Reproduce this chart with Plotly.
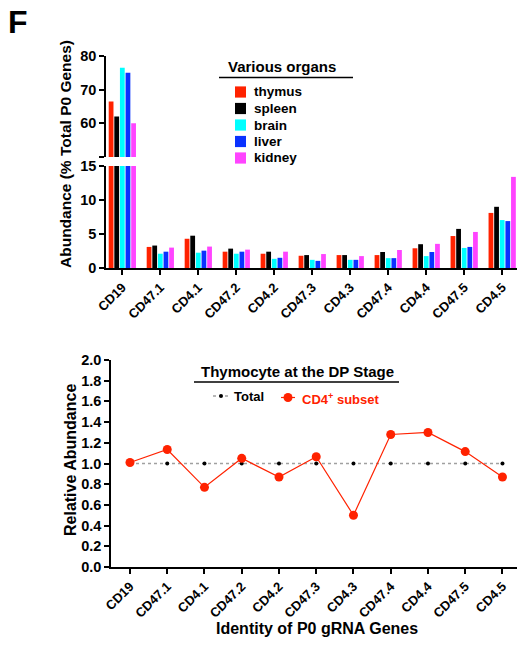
import plotly.graph_objects as go

W, H = 526, 645
def X(px): return px / W
def Y(py): return 1 - py / H

categories = ["CD19", "CD47.1", "CD4.1", "CD47.2", "CD4.2", "CD47.3", "CD4.3",
              "CD47.4", "CD4.4", "CD47.5", "CD4.5"]
organs = ["thymus", "spleen", "brain", "liver", "kidney"]
thymus = [66.5, 3.1, 4.3, 2.4, 2.1, 1.8, 1.9, 1.9, 2.9, 4.7, 8.1]
spleen = [62.0, 3.3, 4.75, 2.85, 2.4, 1.9, 1.9, 2.35, 3.5, 5.75, 9.0]
brain = [76.5, 2.1, 2.25, 2.1, 1.35, 1.2, 1.2, 1.45, 1.75, 2.95, 7.05]
liver = [75.0, 2.4, 2.55, 2.4, 1.5, 1.05, 1.2, 1.45, 2.35, 3.1, 6.9]
kidney = [60.0, 3.0, 3.15, 2.7, 2.4, 2.05, 1.75, 2.65, 3.55, 5.3, 13.4]
total = [1.0, 1.0, 1.0, 1.0, 1.0, 1.0, 1.0, 1.0, 1.0, 1.0, 1.0]
cd4_subset = [1.01, 1.135, 0.77, 1.05, 0.87, 1.065, 0.50, 1.28, 1.30, 1.115, 0.87]

colors = ["#FF2200", "#000000", "#00FFFF", "#0A32FF", "#FF44FF"]
series = [thymus, spleen, brain, liver, kidney]
RED = "#FF2200"
GRAY = "#A0A0A0"

FONT = "Liberation Sans, Arial, sans-serif"
fig = go.Figure()

for name, vals, col in zip(organs, series, colors):
    for yax in ("y", "y2"):
        fig.add_trace(go.Bar(x=categories, y=vals, name=name, marker_color=col,
                             marker_line_width=0, xaxis="x", yaxis=yax,
                             showlegend=False))

fig.add_trace(go.Scatter(x=categories, y=total, name="Total", mode="lines+markers",
                         line=dict(color=GRAY, width=1.5, dash="dot"),
                         marker=dict(color="black", size=4),
                         xaxis="x2", yaxis="y3", showlegend=False))
fig.add_trace(go.Scatter(x=categories, y=cd4_subset, name="CD4+ subset",
                         mode="lines+markers",
                         line=dict(color=RED, width=1.2),
                         marker=dict(color=RED, size=9),
                         xaxis="x2", yaxis="y3", showlegend=False))

def ax(size=14.5, **kw):
    d = dict(showline=True, linecolor="black", linewidth=1.5, ticks="outside",
             ticklen=5, tickwidth=1.5, tickcolor="black", showgrid=False,
             zeroline=False, automargin=False, tickfont=dict(size=size, color="black"))
    d.update(kw)
    return d

def ann(text, x, y, size, angle=0, color="black", **kw):
    d = dict(text=text, x=X(x), y=Y(y), xref="paper", yref="paper", showarrow=False,
             textangle=angle, xanchor="center", yanchor="middle",
             font=dict(size=size, color=color))
    d.update(kw)
    return d

annotations = [
    ann("F", 18, 22, 32),
    ann("Abundance (% Total P0 Genes)", 65, 154, 15.5, -90),
    ann("Various organs", 282, 66, 15),
    ann("Thymocyte at the DP Stage", 297, 371, 15),
    ann("Relative Abundance", 70, 460, 16, -90),
    ann("Identity of P0 gRNA Genes", 317, 628, 16),
]
shapes = [
    dict(type="line", xref="paper", yref="paper", x0=X(219), x1=X(353),
         y0=Y(77.5), y1=Y(77.5), line=dict(color="black", width=1.5)),
    dict(type="line", xref="paper", yref="paper", x0=X(194), x1=X(399),
         y0=Y(382), y1=Y(382), line=dict(color="black", width=1.5)),
]
# top legend (Various organs)
row0, row_step = 92, 16.5
for i, (name, col) in enumerate(zip(organs, colors)):
    cy = row0 + i * row_step
    shapes.append(dict(type="rect", xref="paper", yref="paper",
                       x0=X(235), x1=X(246), y0=Y(cy - 5.6), y1=Y(cy + 5.6),
                       fillcolor=col, line=dict(width=0)))
    annotations.append(ann(name, 251.5, cy, 13.5, xanchor="left"))

# bottom legend (Total / CD4+ subset)
ty = 396
shapes += [
    dict(type="line", xref="paper", yref="paper", x0=X(213), x1=X(229),
         y0=Y(ty), y1=Y(ty), line=dict(color=GRAY, width=1.5, dash="dot")),
    dict(type="circle", xref="paper", yref="paper", x0=X(219), x1=X(223),
         y0=Y(ty + 2), y1=Y(ty - 2), fillcolor="black", line=dict(width=0)),
]
annotations.append(ann("Total", 232, ty, 13, xanchor="left"))
cy4 = 397.5
shapes += [
    dict(type="line", xref="paper", yref="paper", x0=X(281), x1=X(295),
         y0=Y(cy4), y1=Y(cy4), line=dict(color=RED, width=1.2)),
    dict(type="circle", xref="paper", yref="paper", x0=X(283.5), x1=X(292.5),
         y0=Y(cy4 + 4.5), y1=Y(cy4 - 4.5), fillcolor=RED, line=dict(width=0)),
]
annotations.append(ann("CD4<sup>+</sup> subset", 300, cy4 + 1, 13, color=RED,
                       xanchor="left"))

fig.update_layout(
    width=W, height=H, autosize=False,
    margin=dict(l=0, r=0, t=0, b=0, pad=0, autoexpand=False),
    paper_bgcolor="white", plot_bgcolor="white",
    font=dict(family=FONT, color="black", weight="bold"),
    barmode="group", bargap=0.26, bargroupgap=0.15, showlegend=False,
    xaxis=ax(13, domain=[X(106), X(517)], anchor="y", range=[-0.43, 10.39],
             type="category", tickangle=-45),
    yaxis=ax(domain=[Y(268), Y(166)], anchor="x", range=[0, 15],
             tickvals=[0, 5, 10, 15]),
    yaxis2=ax(domain=[Y(157), Y(56)], anchor="x", range=[50, 80],
              tickvals=[50, 60, 70, 80], ticktext=["", "60", "70", "80"]),
    xaxis2=ax(13, domain=[X(111), X(517)], anchor="y3", range=[-0.51, 10.39],
              type="category", tickangle=-45),
    yaxis3=ax(domain=[Y(567), Y(360)], anchor="x2", range=[0, 2.0],
              tickvals=[0, 0.2, 0.4, 0.6, 0.8, 1.0, 1.2, 1.4, 1.6, 1.8, 2.0],
              tickformat=".1f"),
    annotations=annotations,
    shapes=shapes,
)

fig.write_html("out.html", config={"displayModeBar": False},
               post_script="document.body.style.margin='0';document.body.style.padding='0';")
